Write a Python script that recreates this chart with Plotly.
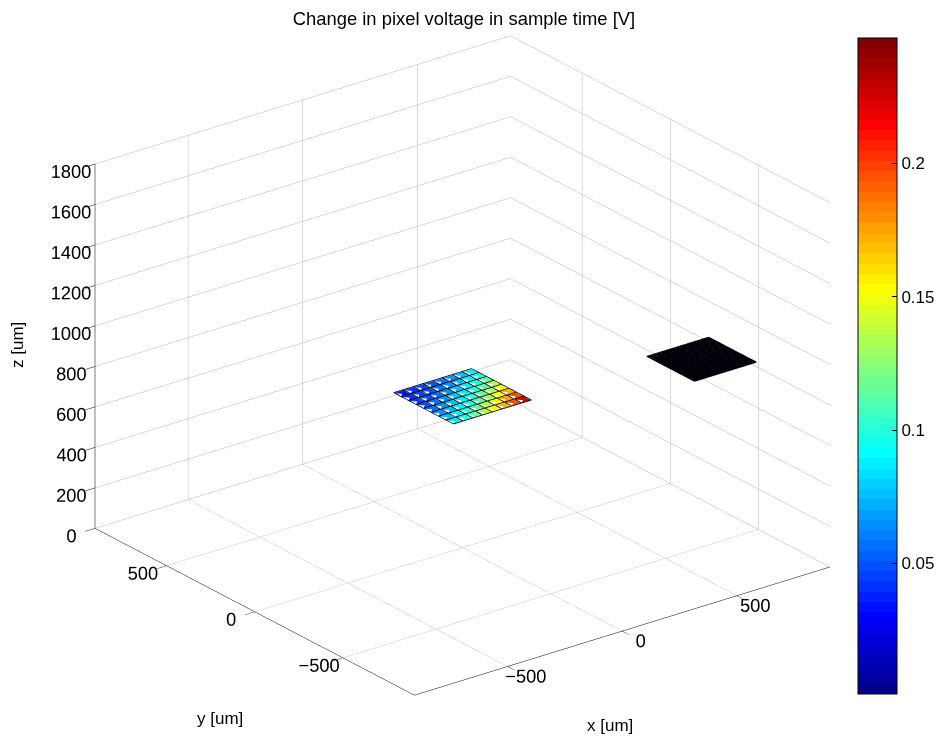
import numpy as np
import plotly.graph_objects as go

# ---- axes ----
x_range = [-906, 906]
y_range = [-906, 906]
z_range = [0, 1800]
xy_ticks = [-500, 0, 500]
z_ticks = [0, 200, 400, 600, 800, 1000, 1200, 1400, 1600, 1800]

# ---- colour limits / colorbar ----
c_limits = [0.001, 0.247]
cbar_ticks = [0.05, 0.1, 0.15, 0.2]
cbar_labels = ["0.05", "0.1", "0.15", "0.2"]

# ---- measured pixel array: cell values, rows run along -y, columns along +x ----
array_x = [-170, 170]
array_y = [170, -170]
array_z = 745
array_values = [
    [0.035, 0.040, 0.045, 0.050, 0.057, 0.065, 0.075, 0.088],
    [0.040, 0.045, 0.050, 0.057, 0.065, 0.075, 0.087, 0.100],
    [0.045, 0.050, 0.057, 0.065, 0.075, 0.087, 0.100, 0.115],
    [0.050, 0.057, 0.065, 0.075, 0.087, 0.100, 0.115, 0.132],
    [0.057, 0.065, 0.075, 0.087, 0.100, 0.115, 0.132, 0.150],
    [0.065, 0.075, 0.087, 0.100, 0.115, 0.132, 0.152, 0.172],
    [0.075, 0.087, 0.100, 0.115, 0.132, 0.152, 0.175, 0.195],
    [0.088, 0.100, 0.115, 0.132, 0.150, 0.172, 0.195, 0.225],
]

# ---- second (idle) array: uniform, near-zero change ----
ref_x = [550, 820]
ref_y = [-330, -600]
ref_z = 900
ref_cells = 30
ref_value = 0.001


def jet_scale(levels=64):
    """Stepped MATLAB-style jet colormap."""
    scale = []
    for i in range(levels):
        t = (i + 1) / levels
        r = np.clip(1.5 - abs(4 * t - 3), 0, 1)
        g = np.clip(1.5 - abs(4 * t - 2), 0, 1)
        b = np.clip(1.5 - abs(4 * t - 1), 0, 1)
        c = "rgb(%d,%d,%d)" % (round(r * 255), round(g * 255), round(b * 255))
        scale.append([i / levels, c])
        scale.append([(i + 1) / levels, c])
    return scale


def faceted_surface(xe, ye, z, values, show_scale=False, edge_width=1.5):
    vals = np.asarray(values, dtype=float)
    ny, nx = vals.shape
    xs = np.linspace(xe[0], xe[1], nx + 1)
    ys = np.linspace(ye[0], ye[1], ny + 1)
    X, Y = np.meshgrid(xs, ys)
    vx, vy = X.ravel(), Y.ravel()
    vz = np.full(vx.shape, z, dtype=float)
    I, J, K, C = [], [], [], []
    for r in range(ny):
        for c in range(nx):
            a = r * (nx + 1) + c
            b = a + 1
            d = a + (nx + 1)
            e = d + 1
            I += [a, b]
            J += [b, e]
            K += [e, d]
            C += [vals[r, c], vals[r, c]]
    mesh = go.Mesh3d(
        x=vx, y=vy, z=vz, i=I, j=J, k=K,
        intensity=C, intensitymode="cell",
        colorscale=jet_scale(), cmin=c_limits[0], cmax=c_limits[1],
        flatshading=True,
        lighting=dict(ambient=1, diffuse=0, specular=0, roughness=1, fresnel=0),
        hoverinfo="skip",
        showscale=show_scale,
        colorbar=dict(
            x=858 / 944, xanchor="left", xpad=0,
            y=1 - 366 / 742, yanchor="middle", ypad=0,
            len=656, lenmode="pixels", thickness=39, thicknessmode="pixels",
            outlinewidth=1, outlinecolor="black",
            tickvals=cbar_ticks, ticktext=cbar_labels,
            ticks="inside", ticklen=5, tickcolor="black",
            tickfont=dict(size=17, color="black"),
        ),
    )
    # cell edges, lifted a hair above the faces
    lx, ly, lz = [], [], []
    zl = z + 3
    for xv in xs:
        lx += [xv, xv, None]; ly += [ys[0], ys[-1], None]; lz += [zl, zl, None]
    for yv in ys:
        lx += [xs[0], xs[-1], None]; ly += [yv, yv, None]; lz += [zl, zl, None]
    edges = go.Scatter3d(x=lx, y=ly, z=lz, mode="lines",
                         line=dict(color="black", width=edge_width),
                         hoverinfo="skip", showlegend=False)
    return mesh, edges


m1, e1 = faceted_surface(array_x, array_y, array_z, array_values, show_scale=True)
m2, e2 = faceted_surface(ref_x, ref_y, ref_z,
                         np.full((ref_cells, ref_cells), ref_value), edge_width=2)

fig = go.Figure([m1, e1, m2, e2])

axis_common = dict(
    showgrid=True, gridcolor="rgba(0,0,0,0.3)", gridwidth=1,
    showline=True, linecolor="black", linewidth=1,
    ticks="outside", tickcolor="black", ticklen=12,
    showbackground=False, zeroline=False, showspikes=False,
    tickfont=dict(size=14.8, color="black"), tickangle=0,
    title=dict(text=""),
)

zoom = 1.434
fig.update_layout(
    width=944, height=742,
    margin=dict(l=0, r=0, t=0, b=0),
    paper_bgcolor="white",
    font=dict(family="Liberation Sans, Arial, Helvetica, sans-serif", size=17, color="black"),
    title=dict(text="Change in pixel voltage in sample time [V]",
               x=0.4915, xanchor="center", y=1 - 19 / 742, yanchor="middle",
               font=dict(size=18.4)),
    showlegend=False,
    scene=dict(
        domain=dict(x=[0.0015, 0.9795], y=[0.015, 1.0]),
        xaxis=dict(range=x_range, tickvals=xy_ticks, **axis_common),
        yaxis=dict(range=y_range, tickvals=xy_ticks, **axis_common),
        zaxis=dict(range=z_range, tickvals=z_ticks, **axis_common),
        aspectmode="manual",
        aspectratio=dict(x=zoom, y=zoom, z=0.759 * zoom),
        camera=dict(
            projection=dict(type="orthographic"),
            eye=dict(x=-0.558 * 2, y=-0.726 * 2, z=0.4015 * 2),
            up=dict(x=0, y=0, z=1),
            center=dict(x=0, y=0, z=0),
        ),
    ),
    annotations=[
        dict(text="z [um]", xref="paper", yref="paper", x=18 / 944, y=1 - 345 / 742,
             xanchor="center", yanchor="middle",
             textangle=-90, showarrow=False, font=dict(size=17)),
        dict(text="y [um]", xref="paper", yref="paper", x=220 / 944, y=1 - 718 / 742,
             xanchor="center", yanchor="middle", showarrow=False, font=dict(size=17)),
        dict(text="x [um]", xref="paper", yref="paper", x=610 / 944, y=1 - 725 / 742,
             xanchor="center", yanchor="middle", showarrow=False, font=dict(size=17)),
    ],
)

fig.write_html("out.html")
